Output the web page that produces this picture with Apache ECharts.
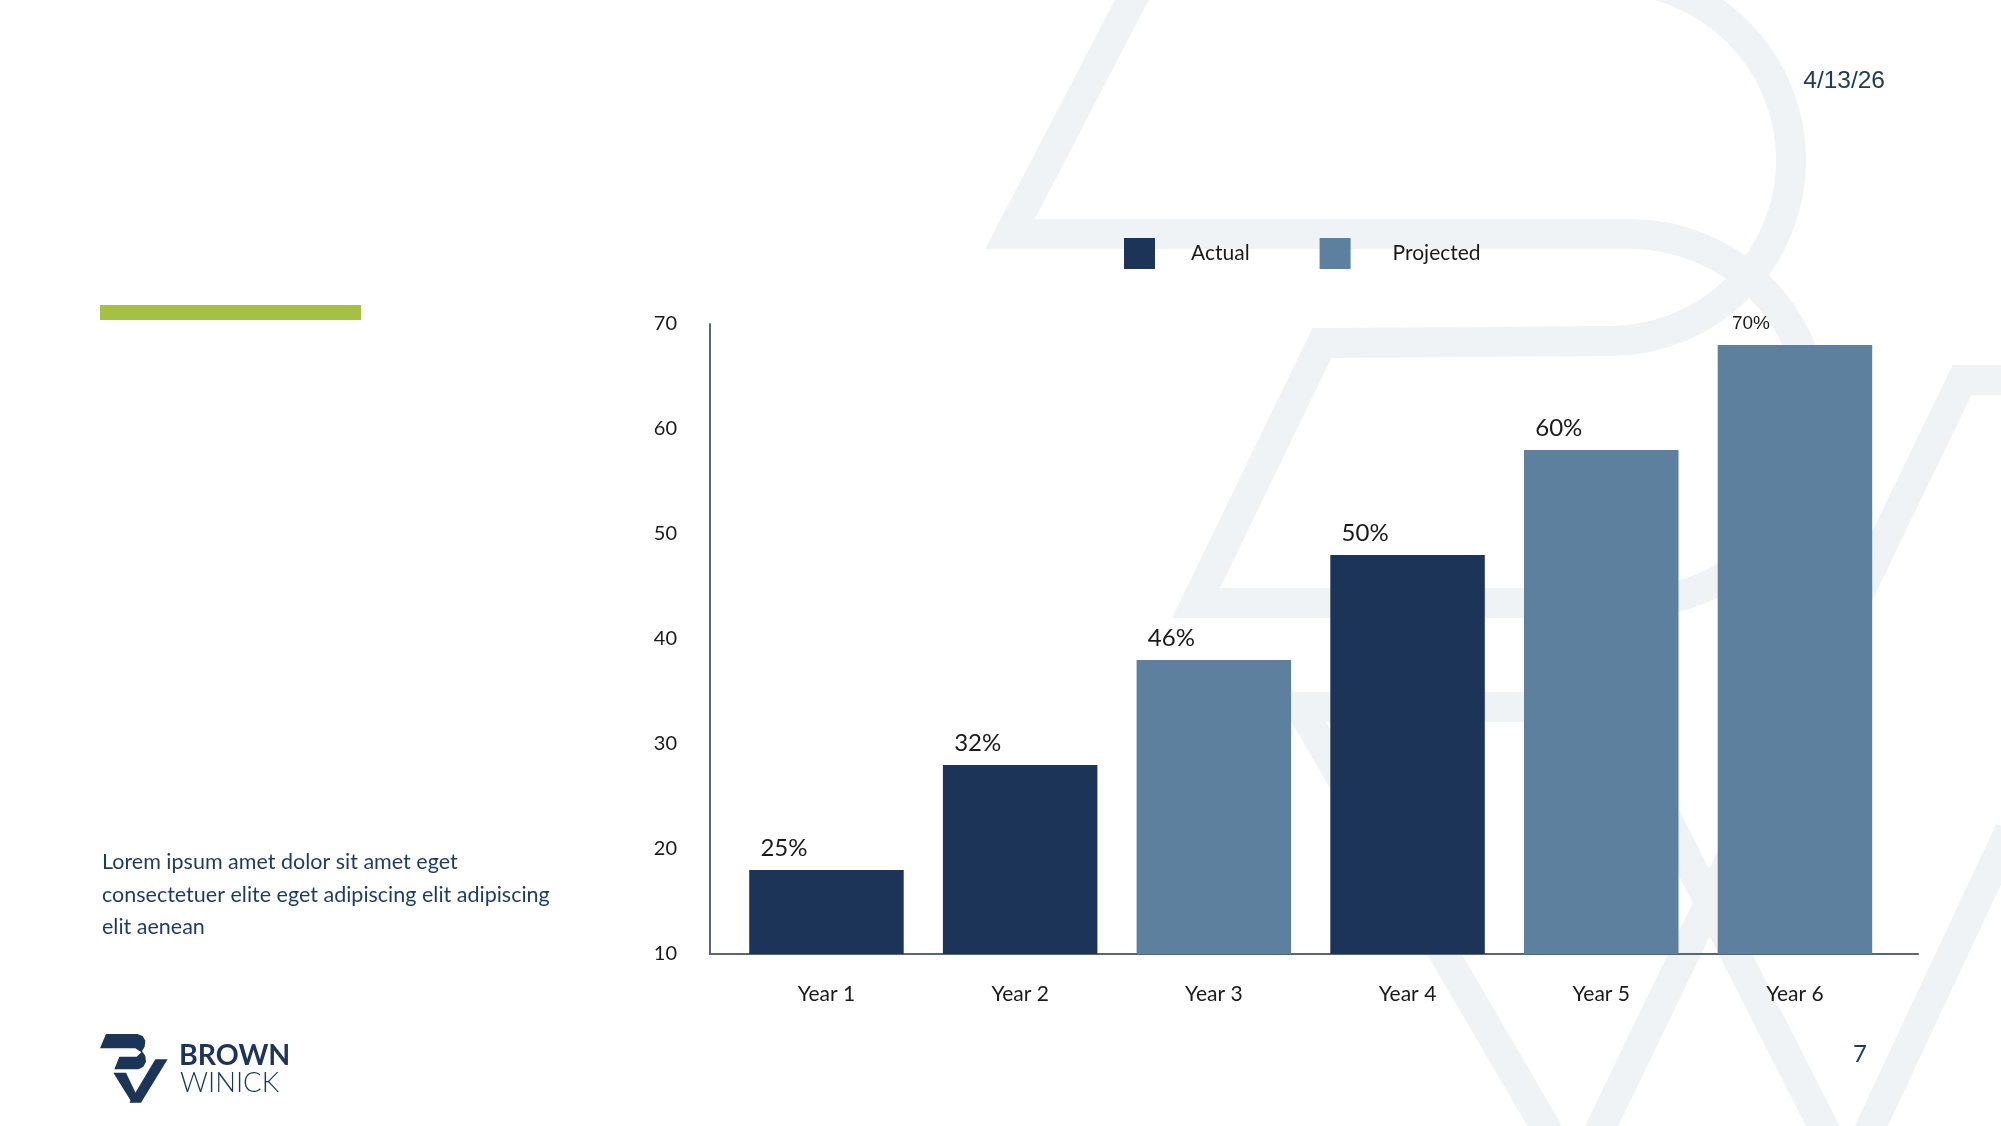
<!DOCTYPE html>
<html>
<head>
<meta charset="utf-8">
<script src="https://cdn.jsdelivr.net/npm/echarts@6/dist/echarts.min.js"></script>
<style>
  html, body { margin: 0; padding: 0; background: #ffffff; }
  #chart { width: 2001px; height: 1126px; }
</style>
</head>
<body>
<div id="chart"></div>
<script>
// ---- Data ----
const categories = ['Year 1', 'Year 2', 'Year 3', 'Year 4', 'Year 5', 'Year 6'];
const actualValues = [18, 28, null, 48, null, null];
const projectedValues = [null, null, 38, null, 58, 68];
const barLabels = ['25%', '32%', '46%', '50%', '60%', '70%'];
const yMin = 10, yMax = 70, yInterval = 10;
const legendNames = ['Actual', 'Projected'];
const bodyText = ['Lorem ipsum amet dolor sit amet eget', 'consectetuer elite eget adipiscing elit adipiscing', 'elit aenean'];
const dateText = '4/13/26';
const pageText = '7';

// ---- Styles ----
const ACTUAL = '#1c3458';
const PROJ = '#5d809e';
const NAVY = '#1f3a60';
const WM = '#eff3f6';
const FONT = 'Lato, "Noto Sans", sans-serif';

function makeData(values) {
  return values.map(function (v, i) {
    if (v == null) return '-';
    const item = { value: v };
    if (i === categories.length - 1) {
      item.label = { fontSize: 19, fontFamily: '"Liberation Sans", Arial, sans-serif', distance: 21, offset: [-63, 0] };
    }
    return item;
  });
}

const labelOpt = {
  show: true,
  position: 'top',
  distance: 22,
  align: 'left',
  verticalAlign: 'middle',
  offset: [-66, 0],
  fontSize: 24,
  fontFamily: FONT,
  color: '#1a1a1a',
  formatter: function (p) { return barLabels[p.dataIndex]; }
};

// ---- Decorations (watermark + logo) ----
const wmStyle = { stroke: WM, lineWidth: 30, fill: 'none' };
const wm = [
  { type: 'polyline', shape: { points: [[1137, -10], [1010, 234], [1630, 234]] } },
  { type: 'arc', shape: { cx: 1630, cy: 418.5, r: 184.5, startAngle: -Math.PI / 2, endAngle: Math.PI / 2, clockwise: true } },
  { type: 'polyline', shape: { points: [[1630, 603], [1196, 603], [1322, 343], [1610, 341]] } },
  { type: 'arc', shape: { cx: 1610, cy: 160, r: 181, startAngle: Math.PI / 2, endAngle: -105 * Math.PI / 180, clockwise: false } },
  { type: 'polyline', shape: { points: [[1600, 707], [1300, 707], [1553, 1140]] } },
  { type: 'polyline', shape: { points: [[1590, 1150], [1962, 380], [2010, 380]] } },
  { type: 'polyline', shape: { points: [[1610, 707], [1835, 1150]] } },
  { type: 'polyline', shape: { points: [[1860, 1150], [2010, 830]] } }
].map(function (e) { e.style = Object.assign({}, wmStyle); e.z = -10; e.silent = true; return e; });

function lp(pts) { return pts.map(function (p) { return [96 + p[0] / 3, 1030 + p[1] / 3]; }); }
const logo = [
  { type: 'polygon', shape: { points: lp([[30,12],[124,12],[140,18],[148,32],[146,50],[138,63],[148,78],[150,95],[142,110],[128,118],[55,118],[70,80],[122,80],[136,67],[118,55],[12,55]]) }, style: { fill: ACTUAL } },
  { type: 'polygon', shape: { points: lp([[52,128],[90,128],[128,208],[108,218]]) }, style: { fill: ACTUAL } },
  { type: 'polygon', shape: { points: lp([[178,88],[215,88],[135,218],[100,218]]) }, style: { fill: ACTUAL } },
  { type: 'text', x: 179, y: 1056, style: { text: 'BROWN', fill: ACTUAL, font: 'bold 28.5px ' + FONT, align: 'left', verticalAlign: 'middle', textAlign: 'left', textVerticalAlign: 'middle' } },
  { type: 'text', x: 180, y: 1083, style: { text: 'WINICK', fill: ACTUAL, font: '300 27.5px ' + FONT, align: 'left', verticalAlign: 'middle', textAlign: 'left', textVerticalAlign: 'middle' } }
];

const texts = [
  { type: 'rect', shape: { x: 100, y: 305, width: 261, height: 15 }, style: { fill: '#a5c045' } },
  { type: 'text', x: 1885, y: 81, style: { text: dateText, fill: NAVY, font: '24.5px "Liberation Sans", Arial, sans-serif', align: 'right', verticalAlign: 'middle', textAlign: 'right', textVerticalAlign: 'middle' } },
  { type: 'text', x: 1860, y: 1054, style: { text: pageText, fill: NAVY, font: '24px ' + FONT, align: 'center', verticalAlign: 'middle', textAlign: 'center', textVerticalAlign: 'middle' } },
  { type: 'text', x: 102, y: 846, style: { text: bodyText.join('\n'), fill: '#1f3a5f', font: '21.5px ' + FONT, lineHeight: 32.5, align: 'left', verticalAlign: 'top', textAlign: 'left', textVerticalAlign: 'top' } }
];

const chart = echarts.init(document.getElementById('chart'), null, { renderer: 'canvas', width: 2001, height: 1126 });
chart.setOption({
  backgroundColor: '#ffffff',
  animation: false,
  textStyle: { fontFamily: FONT },
  legend: {
    data: [
      { name: legendNames[0], textStyle: { padding: [0, 0, 0, 31] } },
      { name: legendNames[1], textStyle: { padding: [0, 0, 0, 37] } }
    ],
    left: 1119,
    top: 233,
    itemWidth: 31,
    itemHeight: 31,
    itemGap: 70,
    icon: 'rect',
    textStyle: { fontSize: 21, color: '#1a1a1a', fontFamily: FONT }
  },
  grid: [
    { left: 729.6, right: 109.2, top: 324, bottom: 172 },
    { left: 710, right: 83, top: 324, bottom: 172 }
  ],
  xAxis: [
    {
      type: 'category', gridIndex: 0, data: categories,
      axisLine: { show: false }, axisTick: { show: false },
      axisLabel: { fontSize: 21, color: '#1a1a1a', fontFamily: FONT, margin: 30 }
    },
    {
      type: 'category', gridIndex: 1, data: categories,
      axisLine: { show: true, lineStyle: { color: '#5b6670', width: 2 } },
      axisTick: { show: false }, axisLabel: { show: false }
    }
  ],
  yAxis: [
    { type: 'value', gridIndex: 0, min: yMin, max: yMax, interval: yInterval, show: false },
    {
      type: 'value', gridIndex: 1, min: yMin, max: yMax, interval: yInterval,
      axisLine: { show: true, lineStyle: { color: '#5b6670', width: 2 } },
      axisTick: { show: false },
      splitLine: { show: false },
      axisLabel: { fontSize: 20, color: '#1a1a1a', fontFamily: FONT, margin: 33 }
    }
  ],
  series: [
    {
      name: legendNames[0], type: 'bar', xAxisIndex: 0, yAxisIndex: 0,
      barWidth: 154.5, barGap: '-100%',
      itemStyle: { color: ACTUAL },
      label: labelOpt,
      data: makeData(actualValues)
    },
    {
      name: legendNames[1], type: 'bar', xAxisIndex: 0, yAxisIndex: 0,
      barWidth: 154.5, barGap: '-100%',
      itemStyle: { color: PROJ },
      label: labelOpt,
      data: makeData(projectedValues)
    }
  ],
  graphic: { elements: wm.concat(texts, logo) }
});
</script>
</body>
</html>
